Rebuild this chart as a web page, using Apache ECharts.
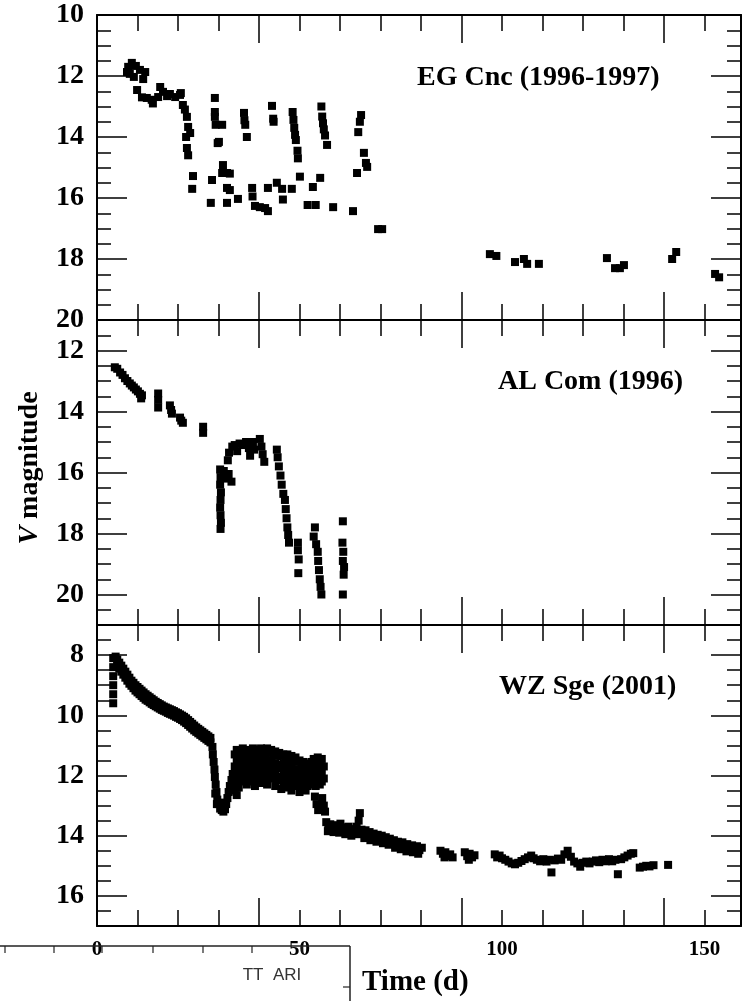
<!DOCTYPE html>
<html><head><meta charset="utf-8">
<script src="https://cdn.jsdelivr.net/npm/echarts@6/dist/echarts.min.js"></script>
<style>html,body{margin:0;padding:0;background:#fff}#c{width:745px;height:1001px}</style>
</head><body><div id="c"></div>
<script>
// ---------------- data ----------------
const xTickLabels = [0, 50, 100, 150];
const xLongTicks = [40, 90, 140];
const panelNames = ['EG Cnc (1996-1997)', 'AL Com (1996)', 'WZ Sge (2001)'];
const yRanges = [[10, 20], [11, 21], [7, 17]];
const yTickLabels = [[10, 12, 14, 16, 18, 20], [12, 14, 16, 18, 20], [8, 10, 12, 14, 16]];

const egCnc = [
[7.4,11.87],[7.7,11.7],[8.1,11.93],[8.6,11.57],[9.1,12.03],[9.6,11.67],[10.6,11.8],[11.4,12.1],[11.9,11.87],
[9.9,12.46],[11.1,12.7],[12.3,12.72],[13.5,12.78],[13.8,12.9],[15.1,12.69],[15.6,12.36],[16.3,12.52],[17.3,12.66],[18.0,12.59],
[19.3,12.69],[20.5,12.62],[20.7,12.56],[21.2,12.95],[21.7,13.1],[22.2,13.34],[22.5,13.67],[23.0,13.87],[22.0,14.0],[22.2,14.36],[22.5,14.6],[23.7,15.28],[23.5,15.7],
[29.1,12.72],[29.1,13.18],[29.1,13.34],[29.3,13.6],[30.9,13.6],[30.1,14.16],[29.8,14.2],[28.4,15.41],[28.1,16.16],
[30.9,15.18],[31.1,14.92],[32.1,15.18],[32.8,15.2],[32.1,15.67],[32.8,15.74],[32.1,16.16],[34.8,16.03],
[36.3,13.21],[36.4,13.45],[36.6,13.6],[37.0,14.0],
[38.3,15.67],[38.4,15.95],[39.0,16.26],[40.2,16.3],[41.5,16.33],[42.2,16.43],
[43.2,12.98],[43.5,13.4],[43.6,13.5],[42.2,15.67],[44.4,15.5],[45.7,15.7],[45.9,16.05],
[48.1,15.7],[48.3,13.18],[48.5,13.44],[48.7,13.7],[48.9,13.93],[49.1,14.1],[49.5,14.45],[49.6,14.7],
[50.1,15.3],[52.0,16.23],[54.0,16.23],[53.3,15.64],[55.1,15.34],
[55.4,13.0],[55.6,13.33],[55.8,13.55],[56.0,13.75],[56.3,13.95],[56.8,14.26],
[58.3,16.3],[63.2,16.43],[64.2,15.18],
[65.2,13.28],[64.9,13.5],[64.5,13.84],[65.9,14.52],[66.4,14.85],[66.7,14.98],
[69.4,17.02],[70.4,17.02],
[97.0,17.84],[98.6,17.9],[103.2,18.1],[105.4,18.0],[106.2,18.16],[109.1,18.16],
[125.9,17.97],[127.9,18.3],[129.1,18.3],[130.1,18.2],[142.0,18.0],[143.0,17.77],[152.6,18.49],[153.6,18.6]
];

const alCom = [
[4.4,12.55],[5.0,12.6],[5.7,12.72],[6.3,12.8],[6.9,12.91],[7.5,13.0],[8.1,13.08],[8.6,13.15],[9.1,13.21],[9.6,13.28],[10.1,13.34],[10.6,13.42],[11.1,13.47],[10.9,13.57],
[15.1,13.41],[15.1,13.62],[15.1,13.87],
[18.0,13.8],[18.3,13.95],[18.5,14.07],[20.5,14.2],[21.2,14.37],[20.8,14.3],
[26.2,14.5],[26.2,14.7],
[30.4,15.9],[30.5,16.15],[30.4,16.4],[30.6,16.65],[30.5,16.9],[30.4,17.15],[30.5,17.4],[30.6,17.65],[30.5,17.85],
[31.3,15.95],[31.8,16.2],[32.5,16.05],[33.2,16.3],
[32.3,15.6],[32.6,15.35],[33.4,15.15],[34.0,15.1],[34.6,15.3],
[35.2,15.05],[36.0,15.1],[36.8,15.0],[37.5,15.2],[37.8,15.45],[38.5,15.0],[38.8,15.25],
[40.2,14.9],[40.6,15.15],[40.9,15.4],[41.3,15.65],
[44.4,15.25],[44.6,15.5],[44.9,15.8],
[45.3,16.1],[45.6,16.4],[46.0,16.7],[46.4,16.9],[46.6,17.2],[46.8,17.5],[47.0,17.8],[47.2,18.05],[47.4,18.3],
[49.6,18.3],[49.6,18.55],[49.8,18.85],[49.7,19.3],
[53.8,17.8],
[53.5,18.1],[54.1,18.35],[54.5,18.6],[54.6,18.9],[54.8,19.2],[55.0,19.5],[55.2,19.75],[55.4,20.0],
[60.7,17.6],[60.6,18.3],[60.8,18.6],[60.7,18.9],[61.0,19.1],[60.9,19.35],[60.7,20.0]
];

const wzSge = [
// rise spike and early decline
[4.0,8.1],[4.0,8.4],[4.0,8.7],[4.0,9.0],[4.0,9.3],[4.0,9.6],[4.6,8.05],
[5.0,8.15],[5.0,8.35],[5.5,8.25],[5.5,8.45],[6.0,8.35],[6.0,8.55],[6.5,8.45],[6.5,8.65],[7.0,8.55],[7.0,8.75],[7.5,8.65],[7.5,8.85],[8.0,8.75],[8.0,8.95],[8.5,8.85],[8.5,9.02],[9.0,8.92],[9.0,9.1],[9.5,9.0],[9.5,9.18],[10.0,9.06],[10.0,9.24],[10.5,9.12],[10.5,9.3],[11.0,9.18],[11.0,9.36],[11.5,9.24],[11.5,9.42],[12.0,9.3],[12.0,9.48],[12.5,9.35],[12.5,9.52],[13.0,9.4],[13.0,9.57],[13.5,9.45],[13.5,9.62],[14.0,9.5],[14.0,9.66],[14.5,9.55],[14.5,9.7],[15.0,9.59],[15.0,9.74],[15.5,9.63],[15.5,9.78],[16.0,9.67],[16.0,9.82],[16.5,9.71],[16.5,9.85],[17.0,9.74],[17.0,9.88],[17.5,9.77],[17.5,9.92],[18.0,9.8],[18.0,9.95],[18.5,9.83],[18.5,9.98],[19.0,9.86],[19.0,10.01],[19.5,9.9],[19.5,10.05],[20.0,9.93],[20.0,10.08],[20.5,9.97],[20.5,10.12],[21.0,10.01],[21.0,10.16],[21.5,10.05],[21.5,10.21],[22.0,10.1],[22.0,10.26],[22.5,10.16],[22.5,10.32],[23.0,10.22],[23.0,10.38],[23.5,10.28],[23.5,10.44],[24.0,10.34],[24.0,10.5],[24.5,10.4],[24.5,10.55],[25.0,10.45],[25.0,10.6],[25.5,10.5],[25.5,10.65],[26.0,10.55],[26.0,10.7],[26.5,10.6],[26.5,10.75],[27.0,10.65],[27.0,10.8],[27.5,10.7],[27.5,10.85],[28.0,10.75],[28.0,10.9],
// drop and dip
[28.5,11.05],[28.6,11.3],[28.8,11.55],[29.0,11.8],[29.1,12.05],[29.3,12.3],[29.5,12.55],[29.7,12.8],[30.0,12.95],[30.4,13.1],[30.8,13.15],[31.2,13.2],[31.6,13.12],[31.9,12.95],[32.2,12.75],[32.5,12.55],[32.8,12.35],[33.2,12.15],[33.5,11.95],[30.6,12.9],[31.4,12.98],[29.2,12.6],[29.6,12.95],
// plateau
[34.0,11.3],[34.0,11.7],[34.0,12.1],[34.0,12.5],[34.5,11.15],[34.5,11.5],[34.5,11.9],[34.5,12.3],[34.5,12.65],
[35.0,11.2],[35.0,11.6],[35.0,12.0],[35.0,12.4],[35.5,11.35],[35.5,11.75],[35.5,12.15],
[36.0,11.1],[36.0,11.45],[36.0,11.85],[36.0,12.2],[36.5,11.25],[36.5,11.6],[36.5,12.0],
[37.0,11.15],[37.0,11.5],[37.0,11.9],[37.0,12.3],[37.5,11.3],[37.5,11.7],[37.5,12.1],
[38.0,11.2],[38.0,11.55],[38.0,11.95],[38.5,11.1],[38.5,11.4],[38.5,11.8],[38.5,12.2],
[39.0,11.25],[39.0,11.65],[39.0,12.05],[39.0,12.35],[39.5,11.15],[39.5,11.5],[39.5,11.9],
[40.0,11.3],[40.0,11.7],[40.0,12.1],[40.5,11.1],[40.5,11.45],[40.5,11.85],[40.5,12.25],
[41.0,11.2],[41.0,11.6],[41.0,12.0],[41.5,11.35],[41.5,11.75],[41.5,12.2],
[42.0,11.1],[42.0,11.5],[42.0,11.9],[42.0,12.3],[42.5,11.25],[42.5,11.65],[42.5,12.05],
[43.0,11.15],[43.0,11.55],[43.0,11.95],[43.5,11.3],[43.5,11.7],[43.5,12.1],
[44.0,11.2],[44.0,11.6],[44.0,12.0],[44.0,12.35],[44.5,11.35],[44.5,11.75],[44.5,12.15],
[45.0,11.25],[45.0,11.65],[45.0,12.05],[45.5,11.35],[45.5,11.7],[45.5,12.1],[45.5,12.45],
[46.0,11.3],[46.0,11.6],[46.0,11.95],[46.0,12.3],[46.5,11.4],[46.5,11.8],[46.5,12.2],
[47.0,11.3],[47.0,11.65],[47.0,12.05],[47.0,12.4],[47.5,11.45],[47.5,11.85],[47.5,12.25],
[48.0,11.35],[48.0,11.75],[48.0,12.15],[48.0,12.5],[48.5,11.5],[48.5,11.9],[48.5,12.3],
[49.0,11.4],[49.0,11.8],[49.0,12.2],[49.5,11.55],[49.5,11.95],[49.5,12.35],
[50.0,11.5],[50.0,11.85],[50.0,12.25],[50.0,12.55],[50.5,11.65],[50.5,12.0],[50.5,12.4],
[51.0,11.55],[51.0,11.95],[51.0,12.3],[51.5,11.7],[51.5,12.1],[51.5,12.5],
[52.0,11.6],[52.0,12.0],[52.0,12.35],[52.5,11.75],[52.5,12.15],
[53.0,11.55],[53.0,11.9],[53.0,12.3],[53.5,11.45],[53.5,11.85],[53.5,12.2],
[54.0,11.6],[54.0,12.0],[54.0,12.35],[54.5,11.4],[54.5,11.75],[54.5,12.1],
[55.0,11.55],[55.0,11.95],[55.0,12.3],[55.5,11.45],[55.5,11.85],[55.5,12.2],[56.0,11.7],[56.0,12.1],
[53.8,12.7],[54.2,12.95],[54.6,13.15],[55.6,12.75],[56.0,13.0],[56.3,13.2],
// late decline
[56.6,13.55],[57.1,13.72],[57.6,13.62],[58.1,13.75],[58.6,13.65],[59.1,13.78],[59.6,13.68],[60.1,13.6],[60.6,13.78],[61.1,13.72],[61.6,13.82],[62.1,13.7],[62.6,13.85],[63.1,13.78],[63.6,13.9],[64.1,13.7],[64.6,13.5],[64.9,13.25],[65.3,13.8],[65.8,13.92],[66.3,13.82],[66.8,13.98],[67.3,13.88],[67.8,14.02],[68.3,13.93],[68.8,14.07],[69.3,13.97],[69.8,14.1],[70.3,14.0],[70.8,14.13],[71.3,14.05],[71.8,14.18],[72.3,14.1],[72.8,14.22],[73.3,14.15],[73.8,14.28],[74.3,14.2],[74.8,14.32],[75.4,14.22],[76.0,14.38],[76.6,14.28],[77.2,14.42],[77.8,14.32],[78.4,14.45],[79.0,14.35],[79.6,14.48],[80.2,14.4],
[57.0,13.85],[58.4,13.88],[59.8,13.9],[61.3,13.95],[62.8,14.0],[64.3,13.95],[66.0,14.08],[67.5,14.15],[69.0,14.2],[70.6,14.25],[72.0,14.3],[73.6,14.4],[75.0,14.45],[76.4,14.52],[78.0,14.55],[79.3,14.6],
[84.8,14.5],[85.4,14.6],[86.0,14.55],[86.6,14.68],[87.2,14.62],[87.8,14.72],[85.8,14.72],[90.8,14.55],[91.4,14.68],[92.0,14.6],[92.6,14.72],[93.2,14.65],[91.8,14.8],
[98.2,14.62],[98.8,14.72],[99.4,14.66],[100.0,14.75],[100.8,14.8],[101.6,14.86],[102.4,14.92],[103.2,14.95],[104.0,14.9],[104.8,14.84],[105.6,14.78],[106.4,14.72],[107.2,14.66],[107.8,14.75],[108.6,14.8],[109.4,14.85],[110.2,14.78],[111.0,14.86],[111.8,14.8],[112.2,15.22],[113.0,14.82],[113.8,14.76],[114.6,14.8],[115.4,14.62],[116.2,14.5],[117.0,14.7],[117.8,14.86],[118.6,14.92],[119.3,15.03],[120.0,14.9],[120.8,14.86],[121.6,14.92],[122.4,14.86],[123.2,14.82],[124.0,14.88],[124.8,14.8],[125.6,14.85],[126.4,14.78],[127.2,14.85],[128.0,14.8],[128.6,15.28],[129.4,14.78],[130.2,14.72],[131.0,14.66],[131.8,14.6],[132.4,14.58],
[134.0,15.06],[134.8,15.03],[135.6,15.0],[136.4,15.02],[137.4,14.98],[141.0,14.97]
];

const panelData = [egCnc, alCom, wzSge];

// ---------------- layout ----------------
const tops = [15, 320, 625];
const heights = [305, 305, 301];
const FONT = 'Liberation Serif';
const minorX = [];
for (let v = 10; v <= 150; v += 10) minorX.push(v);

const grids = [], xAxes = [], yAxes = [], series = [];
const lineStyle = { color: '#000', width: 2 };
const tickStyle = { color: '#000', width: 1.5 };

panelData.forEach((data, i) => {
  grids.push({ left: 97, right: 4, top: tops[i], height: heights[i], outerBoundsMode: 'none' });
  const [ymin, ymax] = yRanges[i];
  const minorY = [];
  for (let v = ymin + 0.5; v < ymax; v += 0.5) minorY.push(v);
  const bx = { gridIndex: i, type: 'value', min: 0, max: 159, splitLine: { show: false } };
  const by = { gridIndex: i, type: 'value', min: ymin, max: ymax, inverse: true, splitLine: { show: false } };
  const xi = xAxes.length, yi = yAxes.length;
  ['bottom', 'top'].forEach(pos => {
    xAxes.push(Object.assign({}, bx, {
      position: pos,
      axisLine: { show: true, onZero: false, lineStyle },
      axisTick: { show: true, inside: true, length: 16, customValues: minorX, lineStyle: tickStyle },
      axisLabel: (i === 2 && pos === 'bottom') ? {
        show: true, customValues: xTickLabels, fontFamily: FONT, fontWeight: 'bold',
        fontSize: 21, color: '#000', margin: 13
      } : { show: false }
    }));
    xAxes.push(Object.assign({}, bx, {
      position: pos,
      axisLine: { show: false, onZero: false },
      axisTick: { show: true, inside: true, length: 28, customValues: xLongTicks, lineStyle: tickStyle },
      axisLabel: { show: false }
    }));
  });
  ['left', 'right'].forEach(pos => {
    yAxes.push(Object.assign({}, by, {
      position: pos,
      axisLine: { show: true, onZero: false, lineStyle },
      axisTick: { show: true, inside: true, length: 14, customValues: minorY, lineStyle: tickStyle },
      axisLabel: { show: false }
    }));
    yAxes.push(Object.assign({}, by, {
      position: pos,
      axisLine: { show: false, onZero: false },
      axisTick: { show: true, inside: true, length: 30, customValues: yTickLabels[i], lineStyle: tickStyle },
      axisLabel: pos === 'left' ? {
        show: true, customValues: yTickLabels[i], fontFamily: FONT, fontWeight: 'bold',
        fontSize: 28, color: '#000', margin: 13
      } : { show: false }
    }));
  });
  series.push({
    type: 'scatter', xAxisIndex: xi, yAxisIndex: yi, data,
    symbol: 'rect', symbolSize: 8, itemStyle: { color: '#000', opacity: 1 }, silent: true
  });
});

const titlePos = [[417, 78], [498, 382], [499, 687]];
const graphics = panelNames.map((t, i) => ({
  type: 'text', x: titlePos[i][0], y: titlePos[i][1], z: 100,
  style: { text: t, font: 'bold 28px "Liberation Serif"', fill: '#000', textAlign: 'left', textVerticalAlign: 'middle' }
}));
graphics.push({
  type: 'text', x: 30, y: 468, rotation: Math.PI / 2, z: 100,
  style: {
    text: '{a|V} {b|magnitude}', textAlign: 'center', textVerticalAlign: 'middle', fill: '#000',
    font: 'bold 28px "Liberation Serif"',
    rich: {
      a: { font: 'italic bold 28px "Liberation Serif"', fill: '#000' },
      b: { font: 'bold 28px "Liberation Serif"', fill: '#000' }
    }
  }
});
graphics.push({
  type: 'text', x: 362, y: 983, z: 100,
  style: { text: 'Time (d)', font: 'bold 29px "Liberation Serif"', fill: '#000', textAlign: 'left', textVerticalAlign: 'middle' }
});
// overlapping inset at the bottom left
graphics.push({ type: 'line', z: 100, shape: { x1: 0, y1: 946, x2: 350, y2: 946 }, style: { stroke: '#222', lineWidth: 1.5 } });
graphics.push({ type: 'line', z: 100, shape: { x1: 350, y1: 946, x2: 350, y2: 1001 }, style: { stroke: '#222', lineWidth: 1.5 } });
graphics.push({ type: 'line', z: 100, shape: { x1: 343, y1: 987, x2: 350, y2: 987 }, style: { stroke: '#222', lineWidth: 1.2 } });
[5, 54, 102, 153, 203, 252, 302].forEach(x => {
  graphics.push({ type: 'line', z: 100, shape: { x1: x, y1: 946, x2: x, y2: 953 }, style: { stroke: '#222', lineWidth: 1.2 } });
});
graphics.push({
  type: 'text', x: 272, y: 975, z: 100,
  style: { text: 'TT  ARI', font: '17px "Liberation Sans"', fill: '#333', textAlign: 'center', textVerticalAlign: 'middle' }
});

const chart = echarts.init(document.getElementById('c'));
chart.setOption({
  animation: false,
  backgroundColor: '#fff',
  grid: grids,
  xAxis: xAxes,
  yAxis: yAxes,
  series,
  graphic: graphics
});
</script>
</body></html>
